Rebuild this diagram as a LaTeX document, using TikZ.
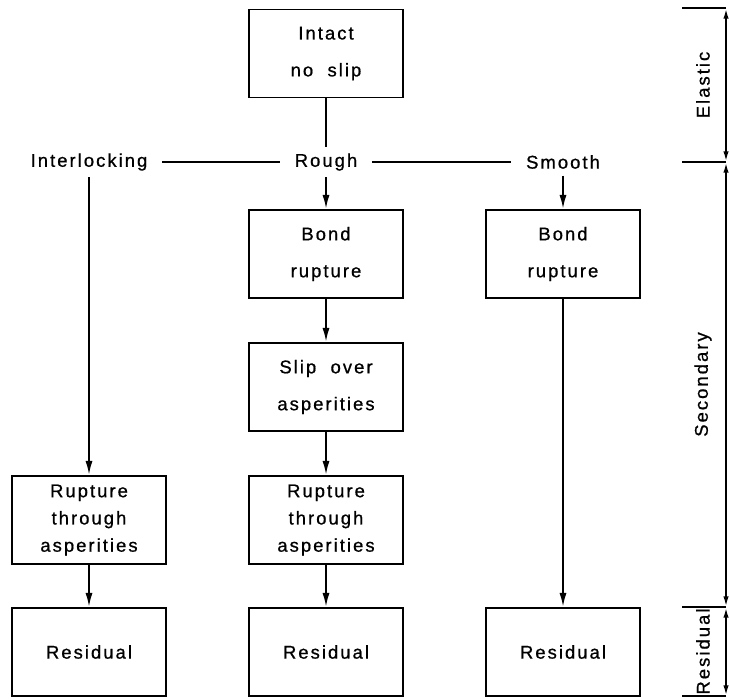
\documentclass[tikz,border=0pt]{standalone}
\usepackage{fontspec}
\setmainfont{Liberation Sans}[LetterSpace=11,FakeBold=0.8]
\usetikzlibrary{positioning,arrows.meta}

\begin{document}
\begin{tikzpicture}
		[>={Latex[length=8pt,width=4pt]},line width=1.1pt,node distance=2.66cm and 4.74cm,on grid,
		 box/.style={draw,minimum width=3.08cm,minimum height=1.76cm,align=center,font=\fontsize{10.5}{21}\selectfont},
		 tallbox/.style={box,font=\fontsize{10.5}{15.5}\selectfont},
		 word/.style={inner xsep=8pt,font=\fontsize{10.5}{12}\selectfont}]
		\useasboundingbox (0,0) rectangle (14.58,-13.96);
		% middle column
		\node[box] (intact) at (6.52,-1.07) {Intact\\no\ \ slip};
		\node[word] (rough) [below=2.17cm of intact] {Rough};
		\node[word] (inter) [left=of rough] {Interlocking};
		\node[word] (smooth) [right=of rough] {Smooth};
		\node[box] (bond) [below=1.84cm of rough] {Bond\\rupture};
		\node[box] (slip) [below=of bond] {Slip\ \ over\\asperities};
		\node[tallbox] (rupt) [below=of slip] {Rupture\\through\\asperities};
		\node[box] (resid) [below=2.64cm of rupt] {Residual};
		% left and right columns
		\node[tallbox] (ruptL) [left=of rupt] {Rupture\\through\\asperities};
		\node[box] (residL) [left=of resid] {Residual};
		\node[box] (bondR) [right=of bond] {Bond\\rupture};
		\node[box] (residR) [right=of resid] {Residual};
		\draw (intact) -- (rough);
		\draw (inter) -- (rough) -- (smooth);
		\path[->]
		(rough) 	edge (bond)
		(bond) 	edge (slip)
		(slip) 	edge (rupt)
		(rupt) 	edge (resid)
		(inter) 	edge (ruptL)
		(ruptL) 	edge (residL)
		(smooth) 	edge (bondR)
		(bondR) 	edge (residR)
		;
		% scale on the right
		\coordinate (s0) at (14.52,-0.16);
		\coordinate (s1) at (14.52,-3.24);
		\coordinate (s2) at (14.52,-12.14);
		\coordinate (s3) at (14.52,-13.92);
		\foreach \s in {s0,s1,s2,s3}
			\draw (\s) -- ++(-0.88,0);
		\draw[<->,>={Latex[length=6pt,width=3pt]}] (s0) -- (s1) node[midway,xshift=-0.46cm,rotate=90,font=\fontsize{10.5}{12}\selectfont] {Elastic};
		\draw[<->,>={Latex[length=6pt,width=3pt]}] (s1) -- (s2) node[midway,xshift=-0.46cm,rotate=90,font=\fontsize{10.5}{12}\selectfont] {Secondary};
		\draw[<->,>={Latex[length=6pt,width=3pt]}] (s2) -- (s3) node[midway,xshift=-0.46cm,rotate=90,font=\fontsize{10.5}{12}\selectfont] {Residual};
\end{tikzpicture}
\end{document}
